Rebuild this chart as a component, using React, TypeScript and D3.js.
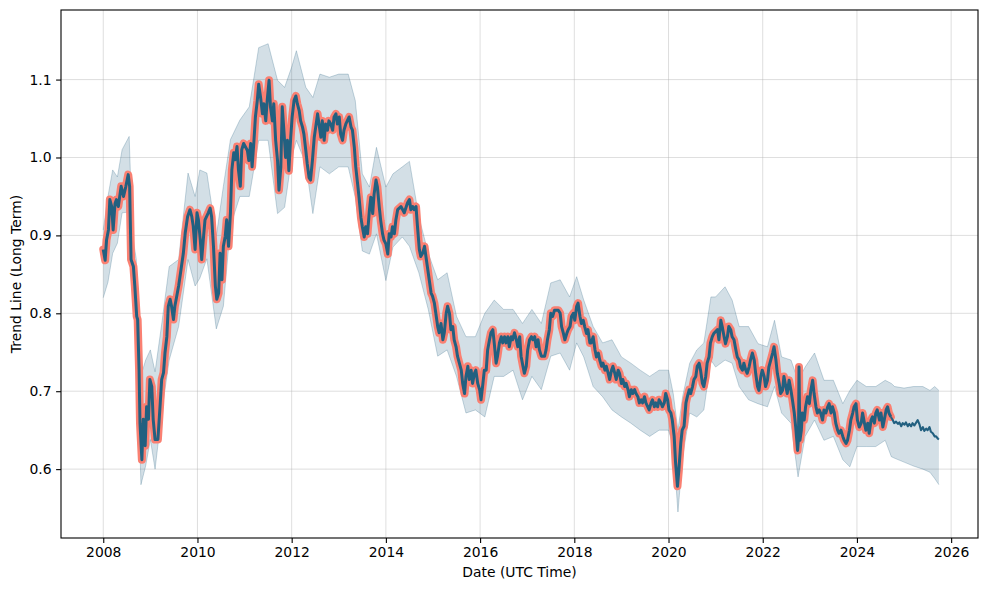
import { useEffect, useRef } from 'react';
import * as d3 from 'd3';

// [decimal year, trend value]
const trend2008_2011: [number, number][] = [
  [2008.00,0.882],[2008.04,0.868],[2008.07,0.894],[2008.11,0.907],[2008.14,0.946],[2008.18,0.937],[2008.21,0.907],[2008.25,0.941],[2008.28,0.946],[2008.32,0.937],[2008.38,0.963],[2008.43,0.950],[2008.48,0.963],[2008.53,0.978],[2008.56,0.963],[2008.59,0.869],[2008.64,0.860],[2008.67,0.835],[2008.71,0.796],[2008.73,0.792],[2008.76,0.728],[2008.78,0.659],[2008.82,0.612],[2008.85,0.664],[2008.89,0.630],[2008.92,0.680],[2008.96,0.664],[2008.99,0.715],[2009.03,0.706],[2009.06,0.664],[2009.10,0.638],[2009.16,0.638],[2009.21,0.685],[2009.24,0.715],[2009.28,0.724],[2009.31,0.749],[2009.35,0.770],[2009.38,0.809],[2009.42,0.818],[2009.45,0.809],[2009.49,0.792],[2009.52,0.809],[2009.56,0.822],[2009.60,0.835],[2009.65,0.856],[2009.70,0.877],[2009.74,0.903],[2009.79,0.924],[2009.84,0.933],[2009.88,0.924],[2009.91,0.912],[2009.95,0.882],[2009.99,0.929],[2010.02,0.920],[2010.06,0.894],[2010.09,0.869],[2010.13,0.899],[2010.16,0.920],[2010.23,0.929],[2010.27,0.935],[2010.30,0.924],[2010.34,0.886],[2010.38,0.835],[2010.41,0.818],[2010.45,0.826],[2010.48,0.877],[2010.52,0.843],[2010.55,0.886],[2010.59,0.899],[2010.62,0.920],[2010.66,0.886],[2010.70,0.929],[2010.73,0.984],[2010.77,1.006],[2010.80,0.997],[2010.84,1.014],[2010.87,0.984],[2010.91,0.963],[2010.94,1.010],[2010.98,1.018],
];

const trend2011_2014: [number, number][] = [
  [2011.06,1.009],[2011.09,0.996],[2011.13,1.018],[2011.16,0.988],[2011.20,1.022],[2011.23,1.052],[2011.27,1.073],[2011.30,1.094],[2011.34,1.077],[2011.38,1.056],[2011.41,1.069],[2011.45,1.047],[2011.48,1.073],[2011.52,1.099],[2011.55,1.065],[2011.59,1.047],[2011.62,1.069],[2011.66,1.022],[2011.70,0.996],[2011.73,0.958],[2011.77,0.988],[2011.80,1.065],[2011.84,1.030],[2011.87,1.000],[2011.91,1.022],[2011.94,0.983],[2011.98,1.026],[2012.01,1.052],[2012.05,1.073],[2012.09,1.079],[2012.12,1.069],[2012.16,1.060],[2012.19,1.047],[2012.23,1.039],[2012.26,1.030],[2012.30,1.009],[2012.33,0.992],[2012.37,0.974],[2012.40,0.971],[2012.44,0.996],[2012.48,1.026],[2012.51,1.039],[2012.55,1.056],[2012.58,1.043],[2012.62,1.026],[2012.65,1.047],[2012.69,1.022],[2012.72,1.043],[2012.76,1.035],[2012.79,1.047],[2012.83,1.043],[2012.87,1.035],[2012.90,1.052],[2012.94,1.056],[2012.97,1.043],[2013.01,1.052],[2013.04,1.030],[2013.08,1.022],[2013.11,1.035],[2013.15,1.043],[2013.18,1.047],[2013.22,1.052],[2013.26,1.039],[2013.29,1.035],[2013.33,1.013],[2013.36,0.988],[2013.40,0.966],[2013.43,0.949],[2013.47,0.923],[2013.50,0.911],[2013.54,0.898],[2013.57,0.911],[2013.61,0.902],[2013.65,0.932],[2013.68,0.949],[2013.72,0.928],[2013.75,0.953],[2013.79,0.971],[2013.82,0.962],[2013.86,0.936],[2013.89,0.919],[2013.93,0.902],[2013.96,0.894],[2014.00,0.889],[2014.04,0.876],[2014.07,0.902],[2014.11,0.898],[2014.14,0.911],[2014.18,0.902],[2014.21,0.919],
];

const trend2014_2017: [number, number][] = [
  [2014.25,0.933],[2014.32,0.937],[2014.39,0.929],[2014.46,0.942],[2014.50,0.946],[2014.53,0.933],[2014.57,0.937],[2014.60,0.933],[2014.64,0.937],[2014.67,0.912],[2014.71,0.882],[2014.74,0.873],[2014.78,0.877],[2014.82,0.886],[2014.85,0.873],[2014.89,0.856],[2014.92,0.843],[2014.96,0.826],[2014.99,0.822],[2015.03,0.813],[2015.06,0.800],[2015.10,0.783],[2015.13,0.775],[2015.17,0.787],[2015.21,0.766],[2015.24,0.775],[2015.28,0.800],[2015.31,0.809],[2015.35,0.800],[2015.38,0.779],[2015.42,0.783],[2015.45,0.766],[2015.49,0.757],[2015.52,0.745],[2015.56,0.736],[2015.60,0.727],[2015.63,0.710],[2015.67,0.697],[2015.70,0.719],[2015.74,0.732],[2015.77,0.715],[2015.81,0.727],[2015.84,0.710],[2015.88,0.723],[2015.91,0.727],[2015.95,0.710],[2015.99,0.702],[2016.02,0.689],[2016.06,0.710],[2016.09,0.727],[2016.13,0.727],[2016.16,0.753],[2016.20,0.766],[2016.23,0.775],[2016.27,0.779],[2016.30,0.762],[2016.34,0.736],[2016.37,0.745],[2016.41,0.762],[2016.45,0.770],[2016.48,0.762],[2016.52,0.770],[2016.55,0.762],[2016.59,0.770],[2016.62,0.757],[2016.66,0.770],[2016.69,0.766],[2016.73,0.775],[2016.77,0.766],[2016.80,0.757],[2016.84,0.770],[2016.87,0.745],[2016.91,0.732],[2016.94,0.723],[2016.98,0.732],[2017.01,0.753],[2017.05,0.766],[2017.09,0.770],[2017.12,0.766],[2017.16,0.770],[2017.19,0.757],[2017.23,0.766],[2017.26,0.753],[2017.30,0.745],[2017.33,0.745],[2017.37,0.745],[2017.40,0.753],[2017.43,0.766],[2017.47,0.779],[2017.50,0.800],[2017.54,0.796],[2017.58,0.804],
];

const trend2017_2021: [number, number][] = [
  [2017.66,0.804],[2017.70,0.800],[2017.73,0.783],[2017.77,0.774],[2017.80,0.766],[2017.84,0.774],[2017.87,0.779],[2017.91,0.783],[2017.94,0.796],[2017.98,0.800],[2018.01,0.791],[2018.05,0.809],[2018.08,0.813],[2018.12,0.796],[2018.15,0.787],[2018.19,0.791],[2018.22,0.783],[2018.26,0.774],[2018.29,0.779],[2018.33,0.762],[2018.36,0.762],[2018.40,0.770],[2018.44,0.753],[2018.47,0.744],[2018.51,0.749],[2018.54,0.740],[2018.58,0.732],[2018.61,0.736],[2018.65,0.727],[2018.68,0.732],[2018.72,0.723],[2018.75,0.715],[2018.79,0.727],[2018.82,0.732],[2018.86,0.723],[2018.89,0.715],[2018.93,0.727],[2018.96,0.723],[2019.00,0.710],[2019.03,0.715],[2019.07,0.706],[2019.10,0.710],[2019.14,0.702],[2019.17,0.693],[2019.21,0.702],[2019.24,0.697],[2019.28,0.702],[2019.31,0.697],[2019.35,0.693],[2019.38,0.685],[2019.42,0.689],[2019.45,0.685],[2019.49,0.693],[2019.52,0.685],[2019.56,0.680],[2019.59,0.676],[2019.63,0.685],[2019.66,0.689],[2019.70,0.680],[2019.73,0.685],[2019.77,0.680],[2019.80,0.689],[2019.84,0.685],[2019.87,0.680],[2019.91,0.685],[2019.94,0.697],[2019.98,0.689],[2020.01,0.676],[2020.05,0.672],[2020.08,0.663],[2020.12,0.642],[2020.15,0.608],[2020.19,0.578],[2020.22,0.599],[2020.26,0.633],[2020.29,0.650],[2020.33,0.655],[2020.37,0.685],[2020.40,0.693],[2020.44,0.702],[2020.47,0.697],[2020.51,0.706],[2020.54,0.715],[2020.58,0.719],[2020.61,0.732],[2020.65,0.736],[2020.68,0.727],[2020.72,0.710],[2020.75,0.706],[2020.79,0.719],[2020.82,0.736],[2020.86,0.744],[2020.89,0.762],[2020.93,0.770],[2020.96,0.774],
];

const trend2021_2024: [number, number][] = [
  [2021.04,0.779],[2021.07,0.766],[2021.11,0.791],[2021.14,0.783],[2021.18,0.770],[2021.21,0.761],[2021.25,0.770],[2021.28,0.783],[2021.32,0.779],[2021.35,0.770],[2021.39,0.766],[2021.43,0.753],[2021.46,0.744],[2021.50,0.740],[2021.53,0.731],[2021.57,0.727],[2021.60,0.736],[2021.64,0.727],[2021.67,0.723],[2021.71,0.731],[2021.74,0.740],[2021.78,0.749],[2021.82,0.740],[2021.85,0.723],[2021.89,0.706],[2021.92,0.701],[2021.96,0.719],[2021.99,0.727],[2022.03,0.719],[2022.06,0.706],[2022.10,0.714],[2022.13,0.731],[2022.17,0.740],[2022.21,0.749],[2022.24,0.757],[2022.28,0.740],[2022.31,0.723],[2022.35,0.710],[2022.38,0.697],[2022.42,0.701],[2022.45,0.719],[2022.49,0.706],[2022.52,0.697],[2022.56,0.714],[2022.60,0.701],[2022.63,0.689],[2022.67,0.672],[2022.70,0.654],[2022.74,0.624],[2022.76,0.640],[2022.77,0.731],[2022.78,0.680],[2022.79,0.637],[2022.82,0.650],[2022.84,0.672],[2022.88,0.663],[2022.91,0.680],[2022.95,0.693],[2022.99,0.684],[2023.02,0.701],[2023.06,0.714],[2023.09,0.697],[2023.13,0.680],[2023.16,0.672],[2023.20,0.676],[2023.23,0.672],[2023.27,0.663],[2023.30,0.676],[2023.34,0.672],[2023.38,0.680],[2023.41,0.684],[2023.45,0.672],[2023.48,0.680],[2023.52,0.672],[2023.55,0.659],[2023.59,0.650],[2023.62,0.646],[2023.66,0.650],[2023.70,0.642],[2023.73,0.637],[2023.77,0.633],[2023.80,0.637],[2023.84,0.650],[2023.87,0.663],[2023.91,0.672],[2023.94,0.680],[2023.98,0.684],[2024.01,0.663],[2024.05,0.654],[2024.09,0.659],[2024.12,0.672],[2024.16,0.659],[2024.19,0.650],[2024.23,0.659],[2024.26,0.646],[2024.30,0.663],[2024.33,0.667],[2024.37,0.659],[2024.40,0.672],[2024.43,0.676],[2024.48,0.663],[2024.51,0.672],[2024.55,0.654],[2024.58,0.663],[2024.62,0.676],[2024.65,0.680],[2024.68,0.672],[2024.72,0.667],
];

const forecastTrend: [number, number][] = [
  [2024.72,0.667],[2024.76,0.663],[2024.79,0.659],[2024.83,0.661],[2024.87,0.658],[2024.90,0.660],[2024.94,0.655],[2024.97,0.659],[2025.01,0.657],[2025.04,0.660],[2025.08,0.655],[2025.11,0.658],[2025.15,0.655],[2025.18,0.659],[2025.22,0.656],[2025.26,0.660],[2025.29,0.663],[2025.33,0.657],[2025.36,0.650],[2025.40,0.654],[2025.43,0.649],[2025.47,0.652],[2025.50,0.650],[2025.54,0.654],[2025.57,0.648],[2025.61,0.646],[2025.65,0.642],[2025.68,0.642],[2025.72,0.639],[2025.74,0.638],
];

// [decimal year, lower, upper] of the uncertainty band
const bandHistory: [number, number, number][] = [
  [2008.00,0.820,0.907],[2008.10,0.840,0.950],[2008.20,0.877,0.984],[2008.30,0.890,0.975],[2008.40,0.929,1.010],[2008.55,0.930,1.027],[2008.62,0.830,0.900],[2008.70,0.790,0.870],[2008.80,0.580,0.720],[2008.90,0.604,0.740],[2009.00,0.638,0.753],[2009.10,0.600,0.725],[2009.25,0.677,0.790],[2009.40,0.740,0.860],[2009.60,0.783,0.869],[2009.80,0.869,0.980],[2009.95,0.835,0.950],[2010.05,0.845,0.984],[2010.20,0.870,0.980],[2010.40,0.780,0.899],[2010.55,0.809,0.963],[2010.70,0.912,1.023],[2010.90,0.950,1.048],[2011.10,0.950,1.065],[2011.30,1.022,1.141],[2011.50,1.022,1.146],[2011.70,0.928,1.099],[2011.85,0.936,1.090],[2012.00,1.000,1.116],[2012.10,1.022,1.137],[2012.30,0.992,1.090],[2012.45,0.928,1.077],[2012.60,0.988,1.107],[2012.80,0.979,1.103],[2013.00,0.988,1.107],[2013.20,0.988,1.107],[2013.35,0.949,1.073],[2013.50,0.880,0.979],[2013.65,0.876,0.962],[2013.80,0.902,1.013],[2014.00,0.842,0.962],[2014.15,0.885,0.979],[2014.35,0.898,0.988],[2014.50,0.886,0.995],[2014.70,0.852,0.924],[2014.90,0.805,0.877],[2015.10,0.745,0.843],[2015.30,0.753,0.852],[2015.50,0.719,0.796],[2015.70,0.672,0.770],[2015.90,0.676,0.770],[2016.10,0.667,0.800],[2016.30,0.719,0.817],[2016.50,0.719,0.805],[2016.70,0.727,0.805],[2016.90,0.689,0.787],[2017.10,0.719,0.805],[2017.30,0.702,0.787],[2017.50,0.745,0.839],[2017.70,0.749,0.843],[2017.90,0.727,0.821],[2018.05,0.762,0.847],[2018.20,0.744,0.817],[2018.40,0.706,0.783],[2018.60,0.693,0.762],[2018.80,0.676,0.766],[2019.00,0.667,0.744],[2019.20,0.659,0.736],[2019.40,0.650,0.727],[2019.60,0.642,0.719],[2019.80,0.650,0.727],[2020.00,0.650,0.727],[2020.10,0.629,0.697],[2020.20,0.545,0.650],[2020.30,0.616,0.693],[2020.45,0.672,0.736],[2020.60,0.667,0.753],[2020.75,0.676,0.762],[2020.90,0.740,0.821],[2021.00,0.731,0.821],[2021.20,0.740,0.834],[2021.35,0.736,0.817],[2021.50,0.706,0.783],[2021.70,0.689,0.783],[2021.90,0.684,0.761],[2022.10,0.680,0.757],[2022.25,0.706,0.791],[2022.40,0.672,0.744],[2022.60,0.659,0.740],[2022.75,0.590,0.714],[2022.90,0.642,0.731],[2023.10,0.663,0.749],[2023.30,0.637,0.714],[2023.50,0.642,0.714],[2023.70,0.612,0.684],[2023.85,0.603,0.701],[2024.00,0.629,0.714],[2024.20,0.629,0.706],[2024.40,0.629,0.706],[2024.60,0.637,0.714],[2024.73,0.616,0.710],
];

const bandForecast: [number, number, number][] = [
  [2024.80,0.614,0.706],[2025.00,0.609,0.704],[2025.20,0.604,0.706],[2025.40,0.600,0.706],[2025.55,0.596,0.701],[2025.65,0.588,0.706],[2025.74,0.580,0.701],
];

const xTicks = [2008, 2010, 2012, 2014, 2016, 2018, 2020, 2022, 2024, 2026];
const yTicks = [0.6, 0.7, 0.8, 0.9, 1.0, 1.1];

const lineColor = '#226080';
const salmon = '#fa8072';

export default function App() {
  const ref = useRef<SVGSVGElement>(null);

  useEffect(() => {
    const width = 989;
    const height = 590;
    const margin = { top: 10, right: 11, bottom: 52, left: 61 };
    const font = '"DejaVu Sans", sans-serif';

    const svg = d3.select(ref.current);
    svg.selectAll('*').remove();
    svg.attr('viewBox', [0, 0, width, height].join(' '));

    const x = d3.scaleLinear()
      .domain([2007.103, 2026.57])
      .range([margin.left, width - margin.right]);
    const y = d3.scaleLinear()
      .domain([0.5116, 1.1893])
      .range([height - margin.bottom, margin.top]);

    const history = [...trend2008_2011, ...trend2011_2014, ...trend2014_2017, ...trend2017_2021, ...trend2021_2024];
    const band = [...bandHistory, ...bandForecast];

    svg.append('rect')
      .attr('width', width).attr('height', height).attr('fill', '#fff');

    // grid
    const grid = svg.append('g').attr('stroke', '#b0b0b0').attr('stroke-opacity', 0.42).attr('stroke-width', 1);
    grid.selectAll('line.gx').data(xTicks).join('line')
      .attr('x1', d => x(d)).attr('x2', d => x(d))
      .attr('y1', margin.top).attr('y2', height - margin.bottom);
    grid.selectAll('line.gy').data(yTicks).join('line')
      .attr('y1', d => y(d)).attr('y2', d => y(d))
      .attr('x1', margin.left).attr('x2', width - margin.right);

    const plot = svg.append('g');

    const area = d3.area<[number, number, number]>()
      .x(d => x(d[0])).y0(d => y(d[1])).y1(d => y(d[2]));
    plot.append('path').datum(band)
      .attr('d', area)
      .attr('fill', lineColor).attr('fill-opacity', 0.2);
    const edge = (i: number) => d3.line<[number, number, number]>().x(d => x(d[0])).y(d => y(d[i]));
    [1, 2].forEach(i => {
      plot.append('path').datum(band)
        .attr('d', edge(i))
        .attr('fill', 'none').attr('stroke', lineColor)
        .attr('stroke-opacity', 0.25).attr('stroke-width', 1);
    });

    const line = d3.line<[number, number]>().x(d => x(d[0])).y(d => y(d[1]));
    plot.append('path').datum(history)
      .attr('d', line)
      .attr('fill', 'none').attr('stroke', salmon)
      .attr('stroke-width', 8).attr('stroke-linejoin', 'round').attr('stroke-linecap', 'round');
    plot.append('path').datum(history)
      .attr('d', line)
      .attr('fill', 'none').attr('stroke', lineColor)
      .attr('stroke-width', 3).attr('stroke-linejoin', 'round');
    plot.append('path').datum(forecastTrend)
      .attr('d', line)
      .attr('fill', 'none').attr('stroke', lineColor)
      .attr('stroke-width', 2.1).attr('stroke-linejoin', 'round');

    // axes
    const xAxis = svg.append('g')
      .attr('transform', `translate(0,${height - margin.bottom})`)
      .call(d3.axisBottom(x).tickValues(xTicks).tickFormat(d => String(d)).tickSize(4.9).tickPadding(4.5));
    const yAxis = svg.append('g')
      .attr('transform', `translate(${margin.left},0)`)
      .call(d3.axisLeft(y).tickValues(yTicks).tickFormat(d3.format('.1f')).tickSize(4.9).tickPadding(4.5));
    [xAxis, yAxis].forEach(a => {
      a.select('.domain').remove();
      a.selectAll('line').attr('stroke', '#000').attr('stroke-width', 1.1);
      a.selectAll('text').attr('font-family', font).attr('font-size', 13.9).attr('fill', '#000');
    });

    svg.append('rect')
      .attr('x', margin.left).attr('y', margin.top)
      .attr('width', width - margin.left - margin.right)
      .attr('height', height - margin.top - margin.bottom)
      .attr('fill', 'none').attr('stroke', '#000').attr('stroke-width', 1.1);

    svg.append('text')
      .attr('x', (margin.left + width - margin.right) / 2).attr('y', 577)
      .attr('text-anchor', 'middle')
      .attr('font-family', font).attr('font-size', 13.9)
      .text('Date (UTC Time)');
    svg.append('text')
      .attr('transform', `translate(21,${(margin.top + height - margin.bottom) / 2}) rotate(-90)`)
      .attr('text-anchor', 'middle')
      .attr('font-family', font).attr('font-size', 13.9)
      .text('Trend Line (Long Term)');
  }, []);

  return <svg ref={ref} width={989} height={590} style={{ position: 'absolute', left: 0, top: 0 }} />;
}
